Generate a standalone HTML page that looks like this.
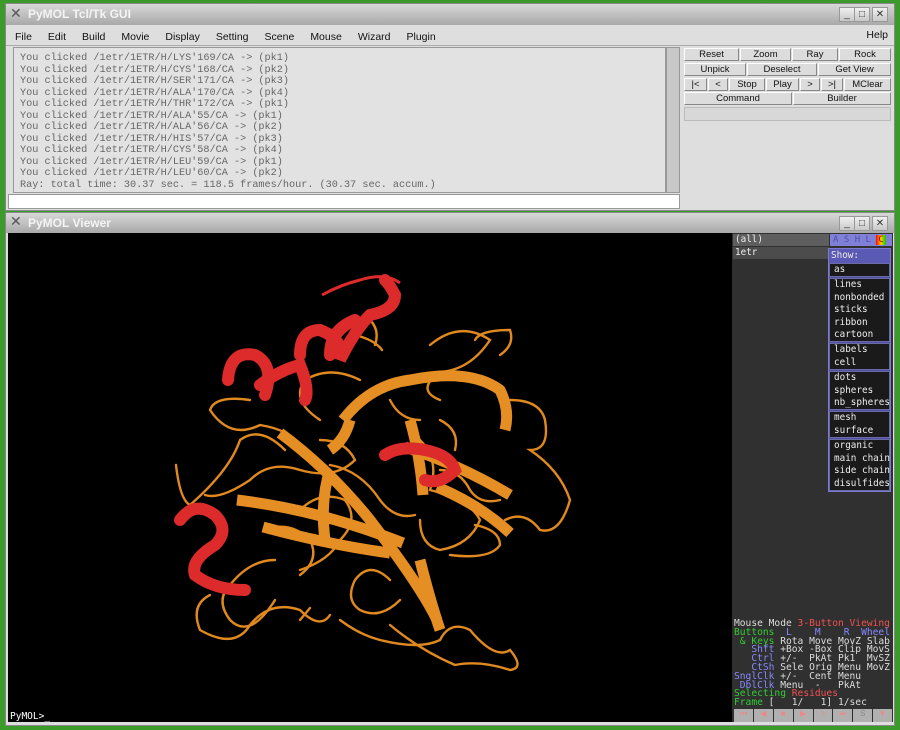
<!DOCTYPE html>
<html><head><meta charset="utf-8"><style>
*{box-sizing:border-box;margin:0;padding:0}
body{width:900px;height:730px;background:#3a9a2a;position:relative;overflow:hidden;font-family:"Liberation Sans",sans-serif}
.abs{position:absolute}
.title{background:linear-gradient(#d8d8d8,#a8a8a8);color:#f4f4f4;font-size:12px;font-weight:bold;padding-left:22px;line-height:20px}
.wbtn{position:absolute;width:16px;height:15px;background:linear-gradient(#f0f0f0,#c8c8c8);border:1px solid #999;font-size:10px;text-align:center;line-height:13px;color:#333}
.menu span{margin-right:16px;font-size:10.5px;color:#111}
.log{font-family:"Liberation Mono",monospace;font-size:10.2px;line-height:11.5px;color:#666;white-space:pre}
.btn{position:absolute;height:13px;background:#dcdcdc;border:1px solid #fff;border-right-color:#888;border-bottom-color:#888;font-size:9.5px;text-align:center;line-height:11px;color:#111}
.mono{font-family:"DejaVu Sans Mono","Liberation Mono",monospace;font-size:9.3px}
.pre{white-space:pre}
.sm div{line-height:12.4px;padding-left:2px;color:#eee;white-space:nowrap}
.grp{border:1px solid #6a6aa8;background:#1a1a1a;margin-bottom:1px}
</style></head><body>
<div class="abs" style="left:5px;top:3px;width:890px;height:208px;background:#dedede;border:1px solid #888">
 <div class="title" style="height:21px">PyMOL Tcl/Tk GUI</div>
 <div class="abs" style="left:4px;top:1px;color:#555;font-size:14px">✕</div>
 <div class="wbtn" style="left:833px;top:3px">_</div>
 <div class="wbtn" style="left:848px;top:3px">□</div>
 <div class="wbtn" style="left:866px;top:3px">✕</div>
 <div class="abs menu" style="left:0;top:22px;width:888px;height:20px;line-height:19px;padding-left:9px;border-bottom:1px solid #aaa">
  <span>File</span><span>Edit</span><span>Build</span><span>Movie</span><span>Display</span><span>Setting</span><span>Scene</span><span>Mouse</span><span>Wizard</span><span>Plugin</span>
  <span class="abs" style="right:-10px;top:0">Help</span>
 </div>
 <div class="abs log" style="left:7px;top:43px;width:653px;height:146px;background:#e2e2e2;border:1px solid #999;padding:5px 0 0 6px">You clicked /1etr/1ETR/H/LYS'169/CA -> (pk1)
You clicked /1etr/1ETR/H/CYS'168/CA -> (pk2)
You clicked /1etr/1ETR/H/SER'171/CA -> (pk3)
You clicked /1etr/1ETR/H/ALA'170/CA -> (pk4)
You clicked /1etr/1ETR/H/THR'172/CA -> (pk1)
You clicked /1etr/1ETR/H/ALA'55/CA -> (pk1)
You clicked /1etr/1ETR/H/ALA'56/CA -> (pk2)
You clicked /1etr/1ETR/H/HIS'57/CA -> (pk3)
You clicked /1etr/1ETR/H/CYS'58/CA -> (pk4)
You clicked /1etr/1ETR/H/LEU'59/CA -> (pk1)
You clicked /1etr/1ETR/H/LEU'60/CA -> (pk2)
Ray: total time: 30.37 sec. = 118.5 frames/hour. (30.37 sec. accum.)</div>
 <div class="abs" style="left:660px;top:43px;width:14px;height:146px;background:#c8c8c8;border:1px solid #999"></div>
 <div class="abs" style="left:2px;top:190px;width:672px;height:15px;background:#fff;border:1px solid #999"></div>
 <div class="btn" style="left:678px;top:44px;width:55px">Reset</div>
 <div class="btn" style="left:734px;top:44px;width:51px">Zoom</div>
 <div class="btn" style="left:786px;top:44px;width:46px">Ray</div>
 <div class="btn" style="left:833px;top:44px;width:52px">Rock</div>
 <div class="btn" style="left:678px;top:59px;width:62px">Unpick</div>
 <div class="btn" style="left:741px;top:59px;width:70px">Deselect</div>
 <div class="btn" style="left:812px;top:59px;width:73px">Get View</div>
 <div class="btn" style="left:678px;top:74px;width:23px">|&lt;</div>
 <div class="btn" style="left:702px;top:74px;width:20px">&lt;</div>
 <div class="btn" style="left:723px;top:74px;width:36px">Stop</div>
 <div class="btn" style="left:760px;top:74px;width:33px">Play</div>
 <div class="btn" style="left:794px;top:74px;width:20px">&gt;</div>
 <div class="btn" style="left:815px;top:74px;width:22px">&gt;|</div>
 <div class="btn" style="left:838px;top:74px;width:47px">MClear</div>
 <div class="btn" style="left:678px;top:88px;width:108px">Command</div>
 <div class="btn" style="left:787px;top:88px;width:98px">Builder</div>
 <div class="abs" style="left:678px;top:103px;width:207px;height:14px;border:1px solid #bbb;background:#d8d8d8"></div>
</div>
<div class="abs" style="left:5px;top:212px;width:890px;height:514px;background:#dedede;border:1px solid #888">
 <div class="title" style="height:20px">PyMOL Viewer</div>
 <div class="abs" style="left:4px;top:0;color:#555;font-size:14px">✕</div>
 <div class="wbtn" style="left:833px;top:3px">_</div>
 <div class="wbtn" style="left:848px;top:3px">□</div>
 <div class="wbtn" style="left:866px;top:3px">✕</div>
</div>
<div class="abs" style="left:8px;top:233px;width:724px;height:489px;background:#000">
<svg width="724" height="489" viewBox="8 233 724 489">
 <g fill="none" stroke="#e0891f" stroke-width="2.4" stroke-linecap="round">
  <path d="M250 400 Q215 395 210 410 Q230 440 260 425 Q290 430 300 445"/>
  <path d="M176 465 Q180 500 190 505 Q230 470 240 440 Q260 425 285 450"/>
  <path d="M320 440 Q345 440 355 460 Q335 480 300 470 Q270 460 250 480 Q220 500 205 495"/>
  <path d="M360 380 Q330 365 305 380 Q290 400 320 420"/>
  <path d="M430 345 Q460 320 490 340 Q470 370 440 372 Q415 390 440 400"/>
  <path d="M475 340 Q480 330 510 330 Q515 345 500 355"/>
  <path d="M510 400 Q540 400 545 420 Q550 450 530 450 Q560 470 570 500 Q560 535 540 530 Q525 510 505 520"/>
  <path d="M420 440 Q440 460 430 490 Q470 500 480 520 Q470 545 440 550 Q420 545 420 520"/>
  <path d="M475 525 Q500 530 500 545 Q490 560 450 555"/>
  <path d="M340 620 Q360 635 380 640 Q420 650 440 640 Q450 620 470 630 Q495 660 510 650 Q525 668 510 670 Q480 660 455 665 Q420 650 390 625"/>
  <path d="M275 600 Q250 640 230 620 Q215 600 230 585 Q250 560 275 560"/>
  <path d="M210 595 Q190 605 200 630 Q235 650 250 625 Q270 600 300 610 Q320 630 330 615"/>
  <path d="M300 570 Q330 560 340 540 Q360 520 345 500 Q320 490 300 510"/>
  <path d="M390 580 Q370 560 355 580 Q345 600 360 610 Q380 620 400 600"/>
  <path d="M375 345 Q380 330 370 320 M355 335 Q375 340 382 350"/>
  <path d="M440 470 Q460 470 470 490 Q480 505 500 500"/>
  <path d="M330 465 Q360 470 380 500 Q395 520 415 515"/>
  <path d="M265 530 Q290 520 310 540 Q320 560 300 575"/>
  <path d="M390 400 Q400 420 420 420 M440 420 Q460 430 455 450"/>
  <path d="M300 620 L310 608"/>
 </g>
 <g fill="none" stroke="#e48e24" stroke-width="11" stroke-linejoin="round">
  <path d="M343 420 Q370 385 410 380 Q470 368 500 390 Q510 410 505 430"/>
  <path d="M280 433 Q330 470 370 520 Q420 585 437 620"/>
  <path d="M237 500 Q320 510 403 543"/>
  <path d="M263 527 Q330 545 390 553"/>
  <path d="M405 447 Q460 465 510 495"/>
  <path d="M437 487 Q480 505 510 533"/>
  <path d="M410 420 Q420 455 423 495"/>
  <path d="M330 470 Q320 500 325 540"/>
  <path d="M350 420 Q345 440 330 450"/>
  <path d="M420 560 Q430 600 440 630"/>
 </g>
 <g fill="none" stroke="#dd2a2a" stroke-width="12" stroke-linecap="round">
  <path d="M228 380 Q230 350 255 355 Q275 365 265 395 M260 385 Q280 370 300 365 Q310 390 305 400"/>
  <path d="M300 355 Q300 330 320 330 Q345 340 340 360 Q355 330 370 315 Q395 310 395 295 Q390 285 385 280"/>
  <path d="M330 355 Q330 330 355 320"/>
  <path d="M180 520 Q195 500 215 515 Q230 530 215 545 Q190 560 195 575 Q215 590 245 590"/>
  <path d="M385 455 Q400 445 425 450 Q450 455 455 470 Q440 485 425 480"/>
 </g>
 <path d="M322 295 Q340 285 360 280 Q385 272 400 283" stroke="#dd2a2a" stroke-width="3" fill="none"/>
 <text x="10" y="719" fill="#fff" font-family="DejaVu Sans Mono,monospace" font-size="9.5">PyMOL&gt;_</text>
</svg>
</div>
<div class="abs" style="left:732px;top:233px;width:161px;height:489px;background:#303030"></div>
<div class="abs mono" style="left:733px;top:234px;width:96px;height:12px;background:#5e5e5e;color:#eee;line-height:12px;padding-left:2px">(all)</div>
<div class="abs mono" style="left:733px;top:247px;width:96px;height:12px;background:#4c4c4c;color:#eee;line-height:12px;padding-left:2px">1etr</div>
<div class="abs mono" style="left:830px;top:234px;width:62px;height:12px;line-height:12px;background:#8080d8;color:#5050a0;white-space:nowrap;overflow:hidden;font-size:9px">
 <span style="padding-left:3px">A</span> <span>S</span> <span>H</span> <span>L</span> <span style="background:linear-gradient(90deg,#f00,#fc0,#0c0);color:#a00;padding:0 2px">C</span></div>
<div class="abs mono sm" style="left:828px;top:248px;width:63px;background:#5050a0;border:1px solid #7a7ad0;overflow:hidden">
 <div style="background:#5a5ab4;line-height:14px">Show:</div>
 <div class="grp"><div>as</div></div>
 <div class="grp"><div>lines</div><div>nonbonded</div><div>sticks</div><div>ribbon</div><div>cartoon</div></div>
 <div class="grp"><div>labels</div><div>cell</div></div>
 <div class="grp"><div>dots</div><div>spheres</div><div>nb_spheres</div></div>
 <div class="grp"><div>mesh</div><div>surface</div></div>
 <div class="grp" style="margin-bottom:0"><div>organic</div><div>main chain</div><div>side chain</div><div>disulfides</div></div>
</div>
<div class="abs mono pre" style="left:734px;top:620px;line-height:8.8px;font-size:9.6px;color:#ddd"><span>Mouse Mode </span><span style="color:#f05050">3-Button Viewing</span>
<span style="color:#3c3">Buttons</span>  <span style="color:#88f">L    M    R  Wheel</span>
<span style="color:#3c3"> &amp; Keys</span> Rota Move MovZ Slab
<span style="color:#88f">   Shft</span> +Box -Box Clip MovS
<span style="color:#88f">   Ctrl</span> +/-  PkAt Pk1  MvSZ
<span style="color:#88f">   CtSh</span> Sele Orig Menu MovZ
<span style="color:#88f">SnglClk</span> +/-  Cent Menu
<span style="color:#88f"> DblClk</span> Menu  -   PkAt
<span style="color:#3c3">Selecting </span><span style="color:#f05050">Residues</span>
<span style="color:#3c3">Frame</span> [   1/   1] 1/sec</div>
<div class="abs" style="left:734px;top:709px;width:158px;height:13px;display:flex;gap:1px;font-size:8px;color:#e88">
 <div style="flex:1;background:#b0b0b0;text-align:center">⏮</div>
 <div style="flex:1;background:#b0b0b0;text-align:center">◀</div>
 <div style="flex:1;background:#b0b0b0;text-align:center">■</div>
 <div style="flex:1;background:#b0b0b0;text-align:center">▶</div>
 <div style="flex:1;background:#b0b0b0;text-align:center">&gt;</div>
 <div style="flex:1;background:#b0b0b0;text-align:center">⏭</div>
 <div style="flex:1;background:#b0b0b0;text-align:center;color:#888">S</div>
 <div style="flex:1;background:#b0b0b0;text-align:center">▼</div>
</div>
</body></html>
